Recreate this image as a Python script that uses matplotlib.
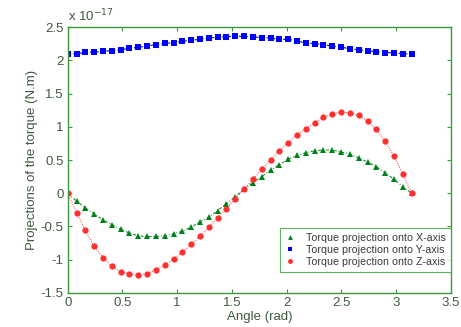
import numpy as np
import matplotlib
matplotlib.use("Agg")
import matplotlib.pyplot as plt

plt.rcParams['font.family'] = ['Liberation Sans', 'DejaVu Sans']

n_points = 40
angle = np.linspace(0, np.pi, n_points)

torque_x = [0.0, -0.12, -0.22, -0.31, -0.40, -0.47, -0.54, -0.60, -0.64, -0.65,
            -0.65, -0.64, -0.61, -0.57, -0.51, -0.43, -0.36, -0.26, -0.16, -0.05,
            0.06, 0.16, 0.25, 0.35, 0.43, 0.51, 0.57, 0.61, 0.64, 0.65,
            0.65, 0.62, 0.59, 0.53, 0.47, 0.40, 0.31, 0.21, 0.10, 0.0]

torque_y = [2.10, 2.095, 2.12, 2.12, 2.135, 2.145, 2.16, 2.18, 2.195, 2.215,
            2.235, 2.255, 2.265, 2.285, 2.30, 2.315, 2.335, 2.345, 2.355, 2.36,
            2.36, 2.355, 2.34, 2.335, 2.315, 2.315, 2.29, 2.26, 2.25, 2.235,
            2.21, 2.20, 2.17, 2.16, 2.14, 2.13, 2.115, 2.115, 2.095, 2.095]

torque_z = [0.0, -0.29, -0.56, -0.80, -0.97, -1.10, -1.18, -1.21, -1.23, -1.21,
            -1.15, -1.08, -0.99, -0.89, -0.77, -0.65, -0.51, -0.37, -0.23, -0.08,
            0.06, 0.21, 0.36, 0.50, 0.64, 0.76, 0.88, 0.97, 1.06, 1.14,
            1.19, 1.22, 1.21, 1.17, 1.09, 0.96, 0.78, 0.56, 0.29, 0.0]

labels = ['Torque projection onto X-axis',
          'Torque projection onto Y-axis',
          'Torque projection onto Z-axis']

xticks = [0, 0.5, 1, 1.5, 2, 2.5, 3, 3.5]
yticks = [-1.5, -1, -0.5, 0, 0.5, 1, 1.5, 2, 2.5]

axis_green = '#3a9a3a'
text_col = '#3f5a3f'

fig = plt.figure(figsize=(4.61, 3.27), dpi=100)
ax = fig.add_axes([0.1469, 0.104, 0.8311, 0.8134])

ax.plot(angle, torque_x, linestyle=(0, (3, 2, 1, 2)), lw=0.7, color='#00801a',
        marker='^', markersize=4.5, markeredgewidth=0, label=labels[0])
ax.plot(angle, torque_y, linestyle=(0, (3, 2)), lw=0.8, color='#0000ff',
        marker='s', markersize=4.2, markeredgewidth=0, label=labels[1])
ax.plot(angle, torque_z, linestyle=(0, (1, 1.5)), lw=0.7, color='#ff3030',
        marker='o', markersize=4.5, markeredgewidth=0, label=labels[2])

ax.set_xlim(0, 3.5)
ax.set_ylim(-1.5, 2.5)
ax.set_xticks(xticks)
ax.set_yticks(yticks)
ax.set_xticklabels([f'{t:g}' for t in xticks])
ax.set_yticklabels([f'{t:g}' for t in yticks])
ax.tick_params(direction='in', length=3, width=0.8, colors=axis_green,
               labelcolor=text_col, labelsize=9.5, top=True, right=True, pad=3)
for s in ax.spines.values():
    s.set_color(axis_green)
    s.set_linewidth(1.0)

ax.set_xlabel('Angle (rad)', fontsize=9.5, color=text_col, labelpad=1)
ax.set_ylabel('Projections of the torque (N.m)', fontsize=9.5, color=text_col, labelpad=2)

ax.text(0.0, 1.01, r'x 10$^{-17}$', transform=ax.transAxes, fontsize=9.5,
        color=text_col, ha='left', va='bottom')

leg = ax.legend(loc='lower right', fontsize=7.7, frameon=True, fancybox=False,
                handlelength=1.0, handletextpad=1.0, borderpad=0.45,
                labelspacing=0.2, borderaxespad=0.0, numpoints=1,
                bbox_to_anchor=(1.0, 0.08))
leg.get_frame().set_edgecolor(axis_green)
leg.get_frame().set_linewidth(0.8)
for h in leg.legend_handles:
    h.set_linestyle('None')
    h.set_markersize(3.5)
for t in leg.get_texts():
    t.set_color('#3a3a3a')

fig.savefig('out.png', dpi=100)
